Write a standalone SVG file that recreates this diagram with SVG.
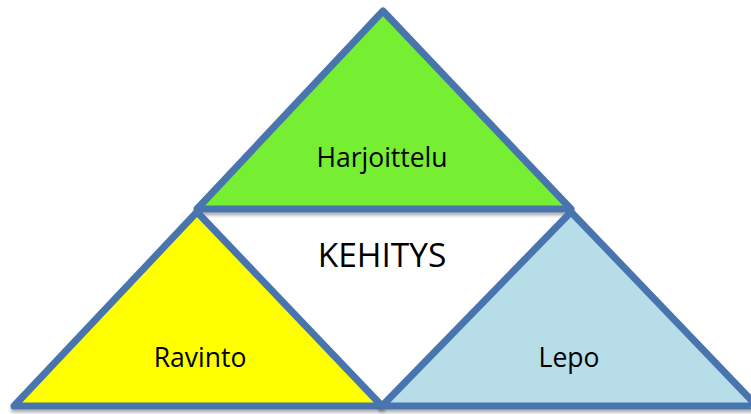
<svg xmlns="http://www.w3.org/2000/svg" width="751" height="414" viewBox="0 0 751 414">
<style>
.tri{stroke:#4A74AE;stroke-width:7;stroke-linejoin:round}
.lbl{font-family:"Open Sans","Liberation Sans",sans-serif;fill:#000;text-anchor:middle}
</style>
<defs>
<filter id="sh" x="-5%" y="-5%" width="110%" height="115%">
<feDropShadow dx="0" dy="3" stdDeviation="1.5" flood-color="#000" flood-opacity="0.3"/>
</filter>
</defs>
<rect width="751" height="414" fill="#fff"/>
<g id="center">
<polygon points="197,209 571,209 382,406" fill="#fff"/>
<text class="lbl" x="382" y="267" font-size="33.5">KEHITYS</text>
</g>
<g id="harjoittelu">
<polygon class="tri" points="383,11 571,209 197,209" fill="#76EE33" filter="url(#sh)"/>
<text class="lbl" x="382" y="167" font-size="26.5">Harjoittelu</text>
</g>
<g id="ravinto">
<polygon class="tri" points="197,212 382,406 14,406" fill="#FFFF00" filter="url(#sh)"/>
<text class="lbl" x="200" y="367" font-size="26.5">Ravinto</text>
</g>
<g id="lepo">
<polygon class="tri" points="571,212 757,406 382,406" fill="#B7DDE8" filter="url(#sh)"/>
<text class="lbl" x="569" y="367" font-size="26.5">Lepo</text>
</g>
<g id="connectors"></g>
</svg>
